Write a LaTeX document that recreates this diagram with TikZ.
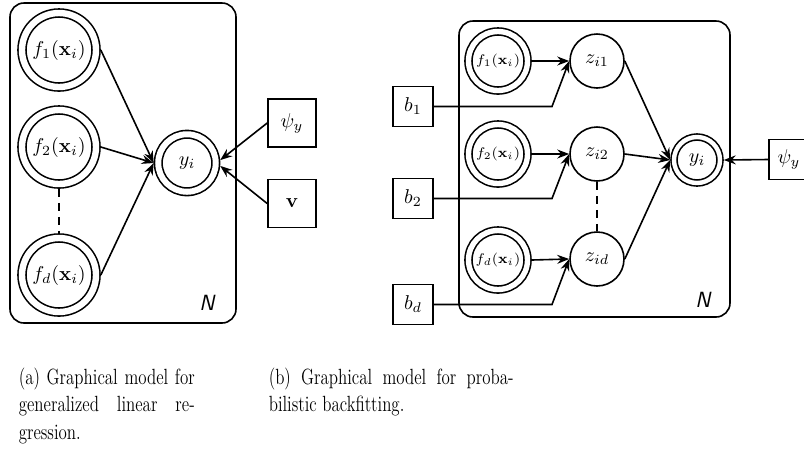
\documentclass[tikz,border=0pt]{standalone}
\usepackage{graphicx}
\usetikzlibrary{arrows.meta}
\begin{document}
\begin{tikzpicture}[x=0.5pt,y=-0.5pt,line width=0.8pt,
  >={Stealth[length=6pt,width=4.5pt,inset=2pt]},
  every node/.style={inner sep=0pt},
  plate/.style={draw,rounded corners=7pt},
  fA/.style={circle,draw,double,double distance=3.2pt,minimum size=37pt,outer sep=2.4pt},
  yA/.style={circle,draw,double,double distance=3pt,minimum size=28.75pt,outer sep=2.3pt},
  fB/.style={circle,draw,double,double distance=2.7pt,minimum size=29.5pt,outer sep=2.15pt,font=\scriptsize},
  yB/.style={circle,draw,double,double distance=2.2pt,minimum size=23pt,outer sep=1.9pt},
  latent/.style={circle,draw,minimum size=27pt},
  parA/.style={rectangle,draw,minimum size=24pt},
  parB/.style={rectangle,draw,minimum size=20pt},
  platelabel/.style={font=\fontsize{11}{13}\selectfont\sffamily\itshape},
  caption/.style={anchor=base west,font=\fontsize{11}{13.6}\selectfont},
  edge/.style={->},
  gap/.style={dash pattern=on 4pt off 3pt}
]
\useasboundingbox (0,0) rectangle (804,457);

% ---------- (a) generalized linear regression ----------
\draw[plate] (10,3) rectangle (236,323);
\node[fA] (fa1) at (59,50)  {$f_1(\mathbf{x}_i)$};
\node[fA] (fa2) at (59,147) {$f_2(\mathbf{x}_i)$};
\node[fA] (fad) at (59,275) {$f_d(\mathbf{x}_i)$};
\node[yA] (ya)  at (187,163) {$y_i$};
\node[parA] (psia) at (292,123) {$\psi_y$};
\node[parA] (va)   at (292,203.5) {$\mathbf{v}$};
\node[platelabel] (Na) at (207,303) {N};

\draw[gap] (fa2.south) -- (fad.north);
\draw[edge] (fa1.east) -- (ya.west);
\draw[edge] (fa2.east) -- (ya.west);
\draw[edge] (fad.east) -- (ya.west);
\draw[edge] (psia.west) -- (ya.5);
\draw[edge] (va.west) -- (ya.-5);

% ---------- (b) probabilistic backfitting ----------
\draw[plate] (459,21) rectangle (730,317);
\node[fB] (fb1) at (498,61)  {$f_1(\mathbf{x}_i)$};
\node[fB] (fb2) at (498,154) {$f_2(\mathbf{x}_i)$};
\node[fB] (fbd) at (498,260) {$f_d(\mathbf{x}_i)$};
\node[latent] (z1) at (597,61)  {$z_{i1}$};
\node[latent] (z2) at (597,154) {$z_{i2}$};
\node[latent] (zd) at (597,259) {$z_{id}$};
\node[yB] (yb) at (697,160) {$y_i$};
\node[parB] (psib) at (789,159.5) {$\psi_y$};
\node[parB] (b1) at (413,106.5) {$b_1$};
\node[parB] (b2) at (413,198.5) {$b_2$};
\node[parB] (bd) at (413,304.5) {$b_d$};
\node[platelabel] (Nb) at (703,300) {N};

\coordinate (k1) at (552,106.5);
\coordinate (k2) at (552,198.5);
\coordinate (kd) at (552,304.5);

\draw[gap] (z2.south) -- (zd.north);
\draw[edge] (fb1.east) -- (z1.west);
\draw[edge] (fb2.east) -- (z2.west);
\draw[edge] (fbd.east) -- (zd.west);
\draw[edge] (b1.east) -- (k1) -- (z1.west);
\draw[edge] (b2.east) -- (k2) -- (z2.west);
\draw[edge] (bd.east) -- (kd) -- (zd.west);
\draw[edge] (z1.east) -- (yb.west);
\draw[edge] (z2.east) -- (yb.west);
\draw[edge] (zd.east) -- (yb.west);
\draw[edge] (psib.west) -- (yb.east);

% ---------- captions ----------
\node[caption] (ca1) at (18,384)
  {\scalebox{0.77}[1]{\makebox[114.3pt][s]{(a) Graphical model for}}};
\node[caption] (ca2) at (18,411.5)
  {\scalebox{0.77}[1]{\makebox[114.3pt][s]{generalized linear re-}}};
\node[caption] (ca3) at (18,439)
  {\scalebox{0.77}[1]{gression.}};
\node[caption] (cb1) at (268,384)
  {\scalebox{0.77}[1]{\makebox[159pt][s]{(b) Graphical model for proba-}}};
\node[caption] (cb2) at (268,411.5)
  {\scalebox{0.77}[1]{bilistic backfitting.}};
\end{tikzpicture}
\end{document}
